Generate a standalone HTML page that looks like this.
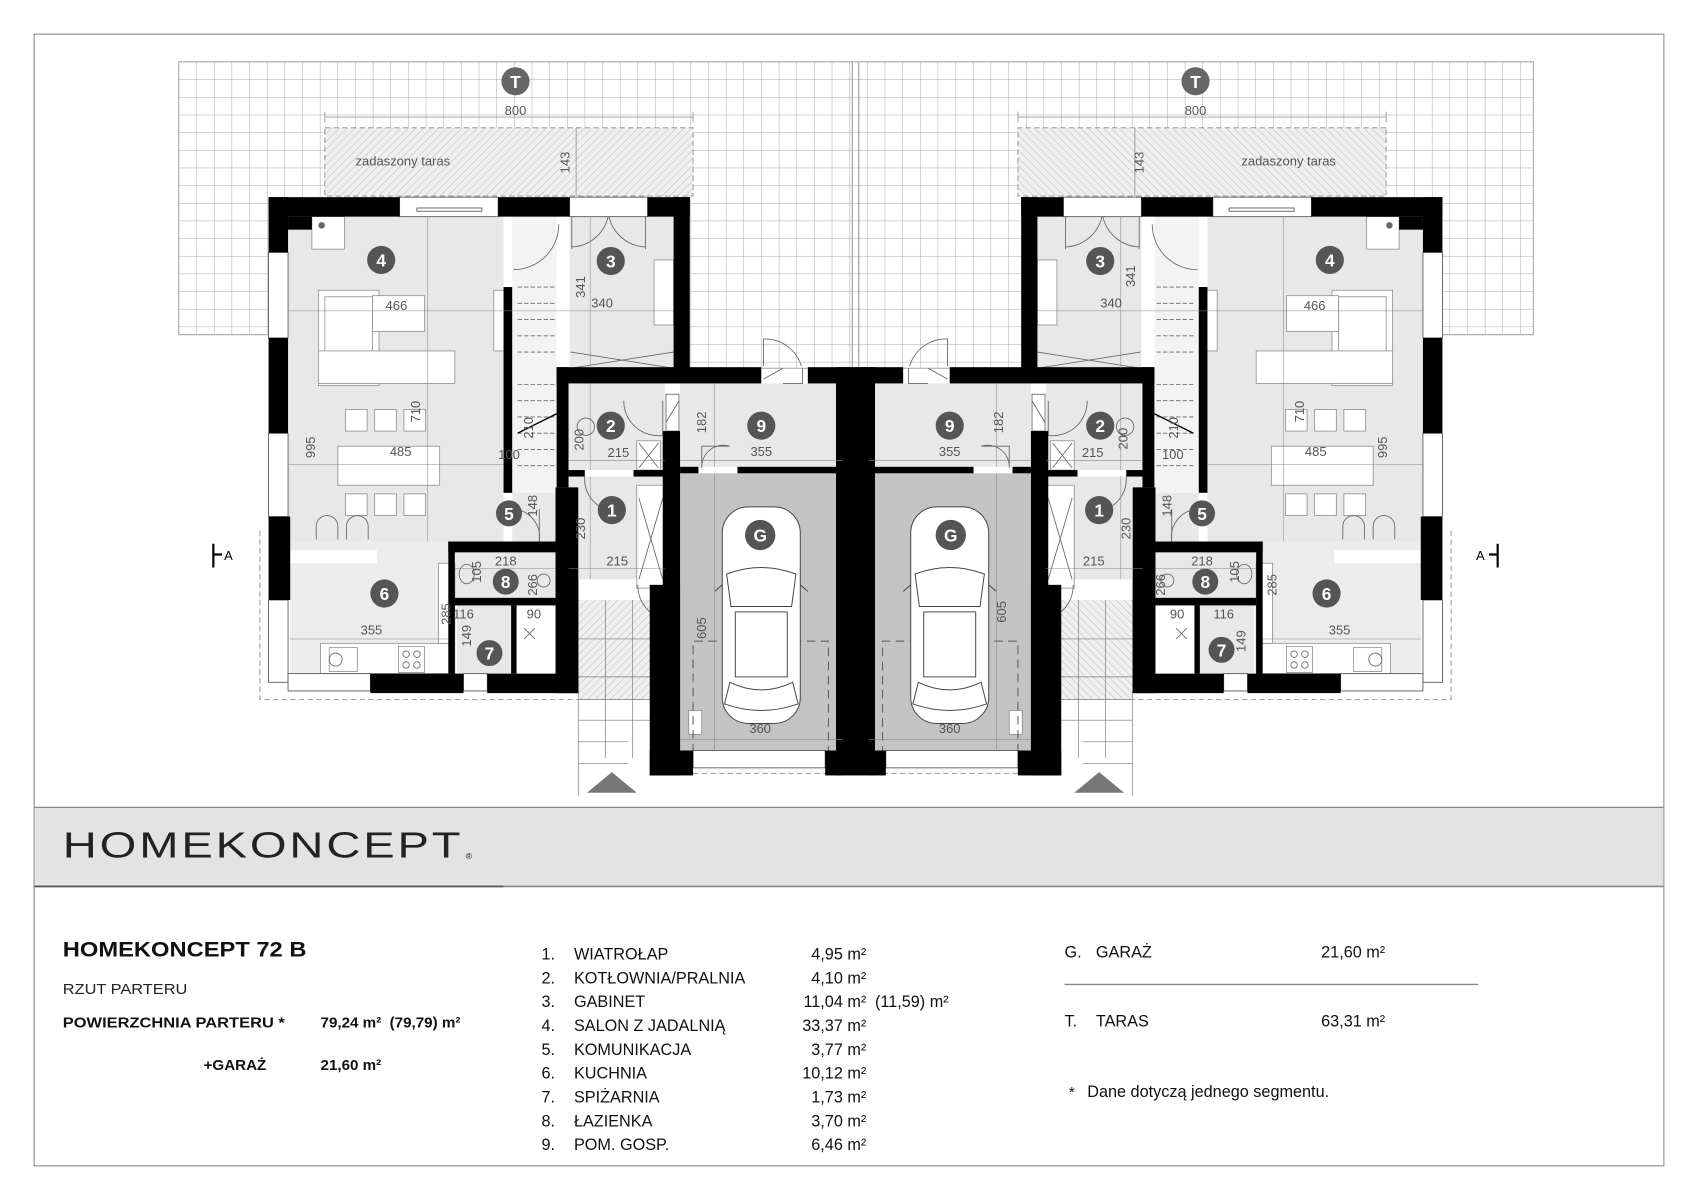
<!DOCTYPE html>
<html><head><meta charset="utf-8">
<style>
html,body{margin:0;padding:0;background:#fff;}
svg{display:block;}
text{font-family:"Liberation Sans",Arial,sans-serif;}
.d{font-size:12px;fill:#555;}
.n{font-size:16px;font-weight:bold;fill:#fff;text-anchor:middle;}
.t{font-size:15px;fill:#111;}
</style></head><body>
<svg width="1698" height="1200" viewBox="0 0 1568 1108" xmlns="http://www.w3.org/2000/svg">
<defs>
<pattern id="grid" x="165" y="57" width="16.3" height="16.3" patternUnits="userSpaceOnUse">
<path d="M0 0H16.3M0 0V16.3" stroke="#a6a6a6" stroke-width="0.9" fill="none"/>
</pattern>
<pattern id="hatch" width="5" height="5" patternUnits="userSpaceOnUse" patternTransform="rotate(45)">
<rect width="5" height="5" fill="#f0f0f0"/><path d="M0 0V5" stroke="#bdbdbd" stroke-width="1"/>
</pattern>
<g id="unit">
<rect x="300" y="118" width="340" height="63" fill="url(#hatch)" stroke="#888" stroke-dasharray="5 3" stroke-width="0.8"/>
<line x1="300" y1="108" x2="640" y2="108" stroke="#777" stroke-width="0.6"/>
<line x1="300" y1="103" x2="300" y2="113" stroke="#777" stroke-width="0.6"/>
<line x1="640" y1="103" x2="640" y2="113" stroke="#777" stroke-width="0.6"/>
<line x1="532" y1="118" x2="532" y2="181" stroke="#777" stroke-width="0.6"/>
<rect x="248" y="182" width="389" height="458" fill="#fff"/>
<rect x="266" y="200" width="199" height="300" fill="#e8e8e8"/>
<rect x="473" y="200" width="41" height="255" fill="#f3f3f3"/>
<rect x="526" y="200" width="96" height="140" fill="#e8e8e8"/>
<rect x="525" y="352" width="89" height="82" fill="#e8e8e8"/>
<rect x="525" y="440" width="89" height="95" fill="#e8e8e8"/>
<rect x="473" y="455" width="41" height="45" fill="#e8e8e8"/>
<rect x="268" y="500" width="148" height="122" fill="#ececec"/>
<rect x="420" y="510" width="93" height="42" fill="#e8e8e8"/>
<rect x="422" y="559" width="50" height="63" fill="#e8e8e8"/>
<rect x="628" y="354" width="150" height="77" fill="#e8e8e8"/>
<rect x="628" y="437" width="150" height="256" fill="#c3c3c3"/>
<rect x="534" y="554" width="74" height="92" fill="url(#hatch)"/>
<g stroke="#777" stroke-width="0.6" fill="none">
<path d="M534 554V735M559 554V700M584 554V700M534 590H608M534 625H608M534 646H608M534 665H608M534 685H580M534 705H580"/>
<line x1="608" y1="554" x2="608" y2="646"/>
</g>
<g fill="#fff" stroke="#888" stroke-width="0.7">
<rect x="294" y="268" width="56" height="88"/>
<rect x="300" y="274" width="44" height="76"/>
<rect x="294" y="324" width="126" height="30"/>
<rect x="344" y="273" width="48" height="33"/>
<rect x="312" y="412" width="94" height="36"/>
<rect x="319" y="378" width="20" height="20"/><rect x="346" y="378" width="20" height="20"/><rect x="373" y="378" width="20" height="20"/>
<rect x="319" y="456" width="20" height="20"/><rect x="346" y="456" width="20" height="20"/><rect x="373" y="456" width="20" height="20"/>
<rect x="288" y="200" width="30" height="30"/>
<rect x="604" y="240" width="18" height="60"/>
<rect x="456" y="268" width="13" height="56"/>
<rect x="268" y="508" width="80" height="12" stroke="none" fill="#fff"/>
<rect x="296" y="594" width="124" height="28"/>
<rect x="304" y="598" width="26" height="22"/>
<rect x="368" y="597" width="24" height="24"/>
<rect x="405" y="520" width="15" height="74"/>
<rect x="588" y="448" width="26" height="95"/>
<rect x="588" y="407" width="22" height="27"/>
<rect x="636" y="656" width="12" height="22"/>
</g>
<g fill="none" stroke="#666" stroke-width="0.8">
<path d="M292 498v-12a10 10 0 0 1 20 0v12M320 498v-12a10 10 0 0 1 20 0v12"/>
<circle cx="310" cy="609" r="6"/><circle cx="375" cy="604" r="3"/><circle cx="385" cy="604" r="3"/><circle cx="375" cy="614" r="3"/><circle cx="385" cy="614" r="3"/>
<circle cx="502" cy="536" r="6"/><ellipse cx="431" cy="530" rx="7" ry="9"/>
<circle cx="541" cy="394" r="8"/>
<path d="M590 409l18 23M608 409l-18 23M590 460l22 75M612 460l-22 75M484 580l10 10M494 580l-10 10"/>
<path d="M478 265h36M478 280h36M478 295h36M478 310h36M478 325h36M478 355h36M478 370h36M478 385h36M478 400h36M478 415h36M478 430h36" stroke-dasharray="4 2"/>
<path d="M478 400l36 -18" stroke="#000" stroke-width="1.2"/>
<path d="M527 340l95 -15M527 325l95 15"/>
<path d="M474 249a42 42 0 0 0 42 -42"/>
<path d="M562 198a36 36 0 0 1 -34 30M562 198a36 36 0 0 0 34 30M528 200v30M596 200v30"/>
<path d="M576 370a32 32 0 0 0 36 32M612 370v32"/>
<path d="M540 440a30 30 0 0 0 25 32"/>
<path d="M474 470a26 26 0 0 1 24 30M498 500v-30"/>
<path d="M589 540a32 32 0 0 0 26 32"/>
<path d="M705 338v-25a35 35 0 0 1 35 25"/>
<path d="M705 350l18 -10M723 354h18v-14"/>
<path d="M648 432v-20h26a20 20 0 0 0 -26 20" />
<rect x="615" y="364" width="12" height="34"/><path d="M615 390l12 -20"/>
</g>
<path d="M640 695V592H765V695" fill="none" stroke="#555" stroke-dasharray="8 5" stroke-width="0.9"/>
<g fill="#fff" stroke="#444" stroke-width="0.9">
<rect x="667" y="468" width="72" height="200" rx="24"/>
<path d="M671 530q32 -12 64 0l-4 30h-56z"/>
<rect x="679" y="565" width="48" height="60"/>
<path d="M674 630q29 14 58 0l5 20q-34 12 -68 0z"/>
<path d="M667 540l-7 6M739 540l7 6"/>
</g>
<g fill="#fff" stroke="#555" stroke-width="0.8">
<rect x="369" y="182" width="91" height="18"/>
<rect x="385" y="192" width="60" height="3"/>
<rect x="526" y="182" width="72" height="18"/>
<rect x="248" y="233" width="18" height="79"/>
<rect x="248" y="400" width="18" height="77"/>
<rect x="248" y="554" width="18" height="76"/>
<rect x="266" y="622" width="76" height="16"/>
<rect x="428" y="622" width="22" height="16"/>
<rect x="640" y="693" width="122" height="16"/>
</g>
<path d="M240 490V646H534M640 714H790" fill="none" stroke="#888" stroke-dasharray="5 3" stroke-width="0.8"/>
<g fill="#000">
<rect x="248" y="182" width="121" height="18"/>
<rect x="460" y="182" width="66" height="18"/>
<rect x="598" y="182" width="39" height="18"/>
<rect x="248" y="182" width="18" height="51"/>
<rect x="266" y="200" width="22" height="12"/>
<rect x="248" y="312" width="18" height="88"/>
<rect x="248" y="477" width="20" height="77"/>
<rect x="622" y="182" width="15" height="158"/>
<rect x="514" y="339" width="189" height="15"/>
<rect x="746" y="339" width="44" height="15"/>
<rect x="772" y="339" width="18" height="377"/>
<rect x="465" y="265" width="8" height="190"/>
<rect x="514" y="339" width="11" height="111"/>
<rect x="525" y="434" width="15" height="6"/>
<rect x="585" y="434" width="29" height="6"/>
<rect x="612" y="398" width="16" height="318"/>
<rect x="600" y="540" width="28" height="176"/>
<rect x="628" y="431" width="17" height="6"/>
<rect x="681" y="431" width="97" height="6"/>
<rect x="513" y="450" width="21" height="190"/>
<rect x="524" y="535" width="10" height="20"/>
<rect x="414" y="500" width="6" height="122"/>
<rect x="414" y="500" width="99" height="10"/>
<rect x="420" y="552" width="93" height="7"/>
<rect x="472" y="559" width="5" height="63"/>
<rect x="342" y="622" width="86" height="18"/>
<rect x="450" y="622" width="84" height="18"/>
<rect x="628" y="693" width="12" height="16"/>
<rect x="762" y="693" width="16" height="23"/>
<rect x="600" y="693" width="40" height="23"/>
</g>
<circle cx="297" cy="208" r="3" fill="#666"/>
<g stroke="#888" stroke-width="0.5">
<line x1="266" y1="287" x2="622" y2="287"/>
<line x1="266" y1="429" x2="465" y2="429"/>
<line x1="395" y1="200" x2="395" y2="500"/>
<line x1="545" y1="200" x2="545" y2="340"/>
<line x1="545" y1="354" x2="545" y2="434"/>
<line x1="525" y1="425" x2="614" y2="425"/>
<line x1="545" y1="440" x2="545" y2="535"/>
<line x1="525" y1="525" x2="614" y2="525"/>
<line x1="660" y1="354" x2="660" y2="431"/>
<line x1="628" y1="425" x2="778" y2="425"/>
<line x1="660" y1="437" x2="660" y2="693"/>
<line x1="628" y1="683" x2="778" y2="683"/>
<line x1="268" y1="590" x2="414" y2="590"/>
<line x1="420" y1="525" x2="513" y2="525"/>
</g>
<path d="M197 502V524M197 512H205" stroke="#000" stroke-width="2" fill="none"/>
<path d="M542 732L565 713L588 732Z" fill="#777"/>
</g>
</defs>

<rect width="1568" height="1108" fill="#fff"/>
<rect x="31.5" y="31.5" width="1505" height="1045" fill="none" stroke="#888" stroke-width="1"/>
<rect x="165" y="57" width="1251" height="283" fill="url(#grid)"/>
<rect x="165" y="57" width="1251" height="283" fill="none" stroke="#a6a6a6" stroke-width="0.9"/>
<rect x="164" y="309" width="84" height="40" fill="#fff"/>
<rect x="1332" y="309" width="86" height="40" fill="#fff"/>
<line x1="165" y1="309" x2="248" y2="309" stroke="#a6a6a6"/>
<line x1="1332" y1="309" x2="1416" y2="309" stroke="#a6a6a6"/>
<line x1="787" y1="57" x2="787" y2="340" stroke="#999"/>
<line x1="793" y1="57" x2="793" y2="340" stroke="#999"/>

<use href="#unit"/>
<use href="#unit" transform="translate(1580,0) scale(-1,1)"/>

<circle cx="476" cy="75" r="13" fill="#666"/><text x="476" y="81" class="n">T</text>
<circle cx="1104" cy="75" r="13" fill="#666"/><text x="1104" y="81" class="n">T</text>

<g>
<circle cx="352" cy="240" r="13" fill="#555"/><text x="352" y="246" class="n">4</text>
<circle cx="564" cy="241" r="13" fill="#555"/><text x="564" y="247" class="n">3</text>
<circle cx="564" cy="393" r="13" fill="#555"/><text x="564" y="399" class="n">2</text>
<circle cx="565" cy="471" r="13" fill="#555"/><text x="565" y="477" class="n">1</text>
<circle cx="470" cy="474" r="12" fill="#555"/><text x="470" y="480" class="n">5</text>
<circle cx="355" cy="548" r="13" fill="#555"/><text x="355" y="554" class="n">6</text>
<circle cx="467" cy="537" r="12" fill="#555"/><text x="467" y="543" class="n">8</text>
<circle cx="452" cy="603" r="12" fill="#555"/><text x="452" y="609" class="n">7</text>
<circle cx="703" cy="393" r="13" fill="#555"/><text x="703" y="399" class="n">9</text>
<circle cx="702" cy="494" r="14" fill="#555"/><text x="702" y="500" class="n">G</text>

<circle cx="1228" cy="240" r="13" fill="#555"/><text x="1228" y="246" class="n">4</text>
<circle cx="1016" cy="241" r="13" fill="#555"/><text x="1016" y="247" class="n">3</text>
<circle cx="1016" cy="393" r="13" fill="#555"/><text x="1016" y="399" class="n">2</text>
<circle cx="1015" cy="471" r="13" fill="#555"/><text x="1015" y="477" class="n">1</text>
<circle cx="1110" cy="474" r="12" fill="#555"/><text x="1110" y="480" class="n">5</text>
<circle cx="1225" cy="548" r="13" fill="#555"/><text x="1225" y="554" class="n">6</text>
<circle cx="1113" cy="537" r="12" fill="#555"/><text x="1113" y="543" class="n">8</text>
<circle cx="1128" cy="600" r="12" fill="#555"/><text x="1128" y="606" class="n">7</text>
<circle cx="877" cy="393" r="13" fill="#555"/><text x="877" y="399" class="n">9</text>
<circle cx="878" cy="494" r="14" fill="#555"/><text x="878" y="500" class="n">G</text>
</g>

<g class="d" text-anchor="middle">
<text x="476" y="106">800</text>
<text x="372" y="153">zadaszony taras</text>
<text x="366" y="286">466</text>
<text x="556" y="284">340</text>
<text x="370" y="421">485</text>
<text x="571" y="422">215</text>
<text x="703" y="421">355</text>
<text x="470" y="424">100</text>
<text x="570" y="522">215</text>
<text x="467" y="522">218</text>
<text x="343" y="586">355</text>
<text x="428" y="571">116</text>
<text x="493" y="571">90</text>
<text x="702" y="677">360</text>
<text x="1104" y="106">800</text>
<text x="1190" y="153">zadaszony taras</text>
<text x="1214" y="286">466</text>
<text x="1026" y="284">340</text>
<text x="1215" y="421">485</text>
<text x="1009" y="422">215</text>
<text x="877" y="421">355</text>
<text x="1083" y="424">100</text>
<text x="1010" y="522">215</text>
<text x="1110" y="522">218</text>
<text x="1237" y="586">355</text>
<text x="1130" y="571">116</text>
<text x="1087" y="571">90</text>
<text x="877" y="677">360</text>
</g>
<g class="d" text-anchor="middle">
<text transform="translate(526,150) rotate(-90)">143</text>
<text transform="translate(540,265) rotate(-90)">341</text>
<text transform="translate(388,380) rotate(-90)">710</text>
<text transform="translate(291,413) rotate(-90)">995</text>
<text transform="translate(539,406) rotate(-90)">200</text>
<text transform="translate(492,395) rotate(-90)">210</text>
<text transform="translate(652,390) rotate(-90)">182</text>
<text transform="translate(496,467) rotate(-90)">148</text>
<text transform="translate(540,488) rotate(-90)">230</text>
<text transform="translate(444,528) rotate(-90)">105</text>
<text transform="translate(496,540) rotate(-90)">266</text>
<text transform="translate(416,567) rotate(-90)">285</text>
<text transform="translate(435,587) rotate(-90)">149</text>
<text transform="translate(652,580) rotate(-90)">605</text>
<text transform="translate(1056,150) rotate(-90)">143</text>
<text transform="translate(1048,255) rotate(-90)">341</text>
<text transform="translate(1204,380) rotate(-90)">710</text>
<text transform="translate(1281,413) rotate(-90)">995</text>
<text transform="translate(1041,405) rotate(-90)">200</text>
<text transform="translate(1088,395) rotate(-90)">210</text>
<text transform="translate(926,390) rotate(-90)">182</text>
<text transform="translate(1082,467) rotate(-90)">148</text>
<text transform="translate(1044,488) rotate(-90)">230</text>
<text transform="translate(1144,528) rotate(-90)">105</text>
<text transform="translate(1076,540) rotate(-90)">266</text>
<text transform="translate(1179,540) rotate(-90)">285</text>
<text transform="translate(1150,592) rotate(-90)">149</text>
<text transform="translate(929,565) rotate(-90)">605</text>
</g>
<text x="207" y="517" style="font-size:12px;fill:#000">A</text>
<text x="1363" y="517" style="font-size:12px;fill:#000">A</text>

<rect x="32" y="745" width="1504" height="73" fill="#e3e3e3"/>
<line x1="32" y1="745.5" x2="1536" y2="745.5" stroke="#888" stroke-width="1.2"/>
<line x1="32" y1="818.5" x2="1536" y2="818.5" stroke="#888" stroke-width="1.5"/>
<line x1="32" y1="818.5" x2="465" y2="818.5" stroke="#555" stroke-width="1.5"/>
<text x="58" y="792" style="font-size:33px;fill:#222;letter-spacing:2px" textLength="370" lengthAdjust="spacingAndGlyphs">HOMEKONCEPT</text>
<text x="430" y="793" style="font-size:8px;fill:#222">®</text>

<text x="58" y="883" style="font-size:20px;font-weight:bold;fill:#111" textLength="225" lengthAdjust="spacingAndGlyphs">HOMEKONCEPT 72 B</text>
<text x="58" y="918" style="font-size:14px;fill:#222" textLength="115" lengthAdjust="spacingAndGlyphs">RZUT PARTERU</text>
<text x="58" y="949" style="font-size:14px;font-weight:bold;fill:#111" textLength="205" lengthAdjust="spacingAndGlyphs">POWIERZCHNIA PARTERU *</text>
<text x="296" y="949" style="font-size:14px;font-weight:bold;fill:#111">79,24 m² &#160;(79,79) m²</text>
<text x="188" y="988" style="font-size:14px;font-weight:bold;fill:#111">+GARAŻ</text>
<text x="296" y="988" style="font-size:14px;font-weight:bold;fill:#111">21,60 m²</text>

<g class="t">
<text x="500" y="886">1.</text><text x="530" y="886">WIATROŁAP</text><text x="800" y="886" text-anchor="end">4,95 m²</text>
<text x="500" y="908">2.</text><text x="530" y="908">KOTŁOWNIA/PRALNIA</text><text x="800" y="908" text-anchor="end">4,10 m²</text>
<text x="500" y="930">3.</text><text x="530" y="930">GABINET</text><text x="800" y="930" text-anchor="end">11,04 m²</text><text x="808" y="930">(11,59) m²</text>
<text x="500" y="952">4.</text><text x="530" y="952">SALON Z JADALNIĄ</text><text x="800" y="952" text-anchor="end">33,37 m²</text>
<text x="500" y="974">5.</text><text x="530" y="974">KOMUNIKACJA</text><text x="800" y="974" text-anchor="end">3,77 m²</text>
<text x="500" y="996">6.</text><text x="530" y="996">KUCHNIA</text><text x="800" y="996" text-anchor="end">10,12 m²</text>
<text x="500" y="1018">7.</text><text x="530" y="1018">SPIŻARNIA</text><text x="800" y="1018" text-anchor="end">1,73 m²</text>
<text x="500" y="1040">8.</text><text x="530" y="1040">ŁAZIENKA</text><text x="800" y="1040" text-anchor="end">3,70 m²</text>
<text x="500" y="1062">9.</text><text x="530" y="1062">POM. GOSP.</text><text x="800" y="1062" text-anchor="end">6,46 m²</text>
<text x="983" y="884">G.</text><text x="1012" y="884">GARAŻ</text><text x="1220" y="884">21,60 m²</text>
<text x="983" y="948">T.</text><text x="1012" y="948">TARAS</text><text x="1220" y="948">63,31 m²</text>
<text x="987" y="1013" style="font-size:14px">*</text><text x="1004" y="1013" style="font-size:15px">Dane dotyczą jednego segmentu.</text>
</g>
<line x1="983" y1="909" x2="1365" y2="909" stroke="#888" stroke-width="1.2"/>
</svg>
</body></html>
